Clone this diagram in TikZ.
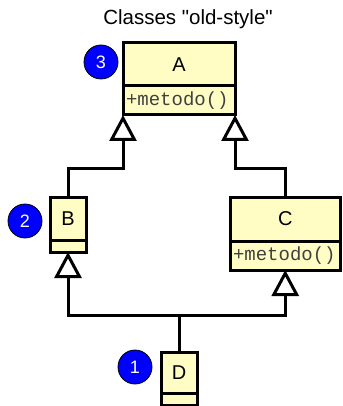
\documentclass[tikz,border=0pt]{standalone}
\usepackage{fontspec}
\setmainfont{Liberation Sans}[Ligatures=TeXOff]
\newfontfamily\codefont{Liberation Mono}
\usetikzlibrary{arrows.meta}
\definecolor{classfill}{RGB}{255,252,196}
\definecolor{badgeblue}{RGB}{0,0,255}
\tikzset{
  classname/.style={draw=black, line width=3pt, fill=classfill, inner sep=0pt, outer sep=0pt,
    font=\fontsize{20}{24}\selectfont},
  classmeth/.style={draw=black, line width=3pt, fill=classfill, inner ysep=0pt, inner xsep=3pt,
    outer sep=0pt, align=left, text=black!75, font=\codefont\fontsize{19}{22}\selectfont},
  badge/.style={circle, draw=black, line width=0.8pt, fill=badgeblue, text=white,
    minimum size=34pt, inner sep=0pt, font=\fontsize{18}{20}\selectfont},
  gen/.style={draw=black, line width=3pt, line join=miter,
    -{Triangle[open, length=26pt, width=27pt, line width=3pt]}},
}
\begin{document}
\begin{tikzpicture}[x=1pt,y=-1pt]
\useasboundingbox (0,0) rectangle (342,406);
% title
\node[anchor=base, font=\fontsize{20.5}{24}\selectfont] (title) at (188,25) {Classes "old-style"};
% class A
\node[classname, minimum width=112pt, minimum height=43pt] (A) at (179,64.5) {A};
\node[classmeth, text width=106pt, minimum height=29pt] (Am) at (179,100.5) {+metodo()};
% class B
\node[classname, minimum width=36pt, minimum height=43pt] (B) at (68,218.5) {B};
\node[classname, minimum width=36pt, minimum height=12pt] (Bm) at (68,246) {};
% class C
\node[classname, minimum width=110.5pt, minimum height=44pt] (C) at (285.25,219) {C};
\node[classmeth, text width=104.5pt, minimum height=29pt] (Cm) at (285.25,255.5) {+metodo()};
% class D
\node[classname, minimum width=36pt, minimum height=41pt] (D) at (179,372.5) {D};
\node[classname, minimum width=36pt, minimum height=12pt] (Dm) at (179,399) {};
% badges
\node[badge] (n3) at (101,62) {3};
\node[badge] (n2) at (25,221) {2};
\node[badge] (n1) at (135,367) {1};
% junctions
\coordinate (ja) at (123,168);
\coordinate (jc) at (235,168);
\coordinate (jb) at (68,315);
\coordinate (jd) at (285.25,315);
% generalisations
\draw[gen] (B.north) |- (ja) -- (Am.south west);
\draw[gen] (C.north) |- (jc) -- (Am.south east);
\draw[gen] (D.north) |- (jb) -- (Bm.south);
\draw[gen] (D.north) |- (jd) -- (Cm.south);
\end{tikzpicture}
\end{document}
